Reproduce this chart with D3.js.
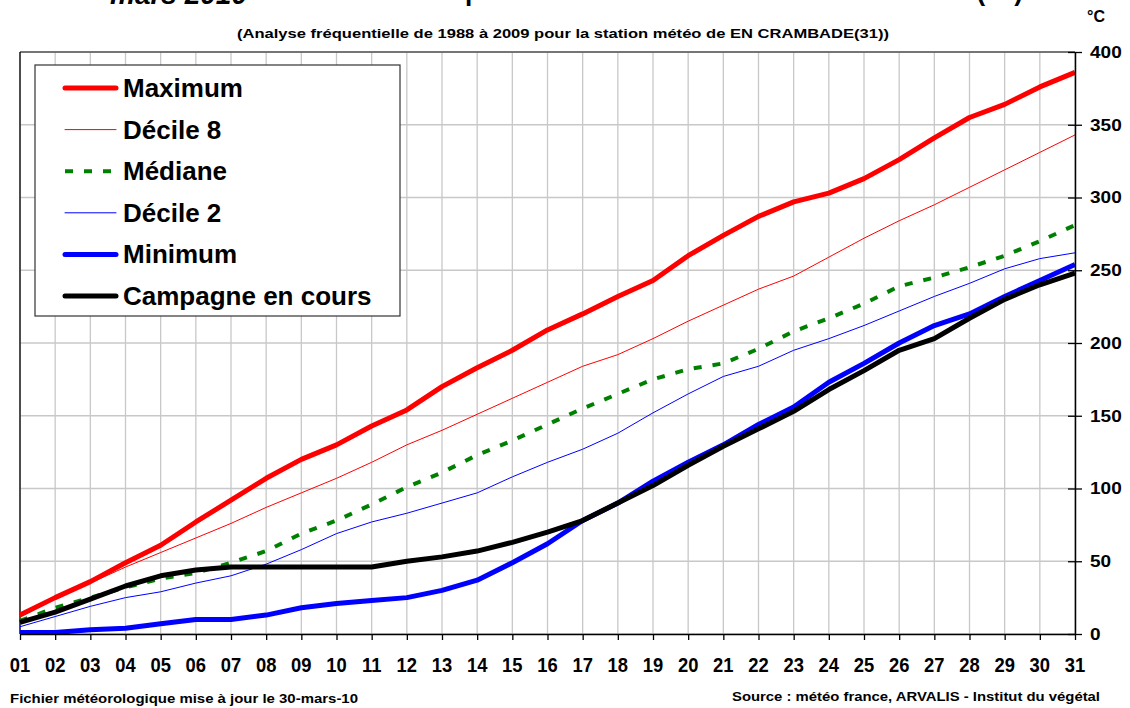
<!DOCTYPE html>
<html><head><meta charset="utf-8">
<script src="https://cdn.jsdelivr.net/npm/d3@7"></script>
<style>
body{margin:0;background:#fff;}
svg text{font-family:"Liberation Sans",Arial,sans-serif;font-weight:bold;fill:#000;}
</style></head>
<body>
<svg id="c" width="1130" height="708"></svg>
<script>
const days = ["01","02","03","04","05","06","07","08","09","10","11","12","13","14","15","16","17","18","19","20","21","22","23","24","25","26","27","28","29","30","31"];
const yTicks = [0,50,100,150,200,250,300,350,400];
const maximum  = [13,25,36,49,61,77,92,107,120,130,143,154,170,183,195,209,220,232,243,260,274,287,297,303,313,326,341,355,364,376,386];
const decile8  = [12,24,35,46,56,66,76,87,97,107,118,130,140,151,162,173,184,192,203,215,226,237,246,259,272,284,295,307,319,331,343];
const mediane  = [9,18,25,32,38,42,49,57,69,78,89,101,111,123,133,144,155,165,175,182,186,196,208,217,227,239,245,252,260,270,281];
const decile2  = [5,12,19,25,29,35,40,48,58,69,77,83,90,97,108,118,127,138,152,165,177,184,195,203,212,222,232,241,251,258,262];
const minimum  = [1,1,3,4,7,10,10,13,18,21,23,25,30,37,49,62,78,90,105,118,130,144,156,173,186,200,212,220,232,243,254];
const campagne = [8,15,24,33,40,44,46,46,46,46,46,50,53,57,63,70,78,90,102,116,129,141,153,168,181,195,203,217,230,240,248];

const seriesNames = ["Maximum","Décile 8","Médiane","Décile 2","Minimum","Campagne en cours"];
const seriesData = [maximum, decile8, mediane, decile2, minimum, campagne];
const seriesStyle = [
  {color:"#ff0000", w:5, dash:null},
  {color:"#ff0000", w:1, dash:null},
  {color:"#008000", w:4, dash:"8,11"},
  {color:"#0000ff", w:1, dash:null},
  {color:"#0000ff", w:5, dash:null},
  {color:"#000000", w:5, dash:null}
];

const svg = d3.select("#c");
const L = 20, R = 1075, T = 52, B = 634;
const x = d3.scalePoint().domain(days).range([L, R]);
const y = d3.scaleLinear().domain([0, 400]).range([B, T]);

// grid
const g = svg.append("g");
g.selectAll(".vg").data(days).join("line")
  .attr("x1", d => x(d)).attr("x2", d => x(d)).attr("y1", T).attr("y2", B)
  .attr("stroke", "#c8c8c8").attr("stroke-width", 1.3);
g.selectAll(".hg").data(yTicks).join("line")
  .attr("x1", L).attr("x2", R).attr("y1", d => y(d)).attr("y2", d => y(d))
  .attr("stroke", "#c8c8c8").attr("stroke-width", 1.3);
svg.append("line").attr("x1", L).attr("x2", R).attr("y1", T).attr("y2", T).attr("stroke", "#555").attr("stroke-width", 1.3);
svg.append("line").attr("x1", L).attr("x2", L).attr("y1", T).attr("y2", B).attr("stroke", "#000").attr("stroke-width", 1.3);

// lines
const line = d3.line().x((d, i) => x(days[i])).y(d => y(d));
seriesData.forEach((s, k) => {
  const st = seriesStyle[k];
  svg.append("path").datum(s).attr("d", line)
    .attr("fill", "none").attr("stroke", st.color).attr("stroke-width", st.w)
    .attr("stroke-linejoin", "round")
    .attr("stroke-dasharray", st.dash);
});

// x axis
const xAxis = svg.append("g").attr("transform", `translate(0,${B})`)
  .call(d3.axisBottom(x).tickSize(6).tickSizeOuter(0).tickFormat(""));
xAxis.select(".domain").attr("stroke", "#000").attr("stroke-width", 1.5);
xAxis.selectAll(".tick line").attr("stroke", "#000").attr("stroke-width", 1.3);
svg.append("g").selectAll("text").data(days).join("text")
  .attr("x", d => x(d)).attr("y", 672).attr("text-anchor", "middle")
  .attr("font-size", 20)
  .attr("transform", d => `translate(${x(d)},0) scale(0.92,1) translate(${-x(d)},0)`)
  .text(d => d);

// y axis right
const yAxis = svg.append("g").attr("transform", `translate(${R},0)`)
  .call(d3.axisRight(y).tickValues(yTicks).tickSize(7).tickSizeOuter(0).tickFormat(""));
yAxis.select(".domain").attr("stroke", "#000").attr("stroke-width", 1.5);
yAxis.selectAll(".tick line").attr("x1", -7).attr("stroke", "#000").attr("stroke-width", 1.3);
svg.append("g").selectAll("text").data(yTicks).join("text")
  .attr("x", 1090).attr("y", d => y(d) + 6).attr("font-size", 17)
  .attr("transform", d => `translate(1090,0) scale(1.12,1) translate(-1090,0)`)
  .text(d => d);

svg.append("text").attr("x", 1087).attr("y", 22).attr("font-size", 16).text("°C");

// titles (cut off at the top edge, as in the reference)
svg.append("text").attr("x", 110).attr("y", 4).attr("font-size", 28).attr("font-style", "italic").text("mars 2010");
svg.append("text").attr("x", 465).attr("y", -0.5).attr("font-size", 28)
  .attr("textLength", 558).attr("lengthAdjust", "spacingAndGlyphs")
  .text("pour la station météo de EN CRAMBADE (31)");
svg.append("text").attr("x", 563).attr("y", 38).attr("font-size", 13).attr("text-anchor", "middle")
  .attr("textLength", 652).attr("lengthAdjust", "spacingAndGlyphs")
  .text("(Analyse fréquentielle de 1988 à 2009 pour la station météo de EN CRAMBADE(31))");

// footers
svg.append("text").attr("x", 10).attr("y", 703).attr("font-size", 12)
  .attr("textLength", 348).attr("lengthAdjust", "spacingAndGlyphs")
  .text("Fichier météorologique mise à jour le 30-mars-10");
svg.append("text").attr("x", 732).attr("y", 701).attr("font-size", 12)
  .attr("textLength", 368).attr("lengthAdjust", "spacingAndGlyphs")
  .text("Source : météo france, ARVALIS - Institut du végétal");

// legend
const lg = svg.append("g");
lg.append("rect").attr("x", 35).attr("y", 65).attr("width", 365).attr("height", 251)
  .attr("fill", "#fff").attr("stroke", "#333").attr("stroke-width", 1.2);
const rowY = d3.scalePoint().domain(seriesNames).range([88, 296]);
seriesNames.forEach((n, k) => {
  const st = seriesStyle[k];
  lg.append("line").attr("x1", 65).attr("x2", 116).attr("y1", rowY(n)).attr("y2", rowY(n))
    .attr("stroke", st.color).attr("stroke-width", st.w).attr("stroke-dasharray", st.dash)
    .attr("stroke-linecap", st.dash ? "butt" : "round");
  lg.append("text").attr("x", 123).attr("y", rowY(n) + 9).attr("font-size", 26).text(n);
});
</script>
</body></html>
